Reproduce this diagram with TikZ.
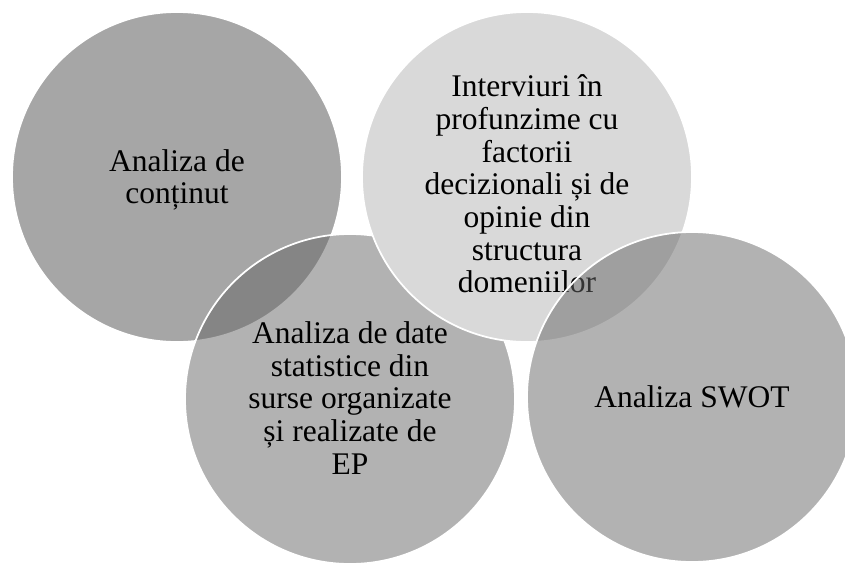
\documentclass[tikz,border=0pt]{standalone}
\usepackage{fontspec}
\setmainfont{Liberation Serif}
\begin{document}
\begin{tikzpicture}[x=1pt,y=-1pt,
  bubble/.style={circle, minimum size=330pt, inner sep=0pt, draw=white, line width=1.75pt},
  solid/.style={bubble, fill=#1},
  veil/.style={bubble, fill=black!60, fill opacity=0.5},
  lbl/.style={align=center, font=\fontsize{31.5pt}{32.7pt}\selectfont, inner sep=0pt}]
\clip (0,0) rectangle (845,562);
\node[solid=black!35] (c1) at (177,177) {};
\node[lbl] (t1) at (177,180) {Analiza de\\conținut};
\node[veil] (c3) at (350,399) {};
\node[lbl] (t3) at (350,398) {Analiza de date\\statistice din\\surse organizate\\și realizate de\\EP};
\node[solid=black!15] (c2) at (527,177) {};
\node[lbl] (t2) at (527,184) {Interviuri în\\profunzime cu\\factorii\\decizionali și de\\opinie din\\structura\\domeniilor};
\node[veil] (c4) at (692,397) {};
\node[lbl] (t4) at (692,397) {Analiza SWOT};
\end{tikzpicture}
\end{document}
